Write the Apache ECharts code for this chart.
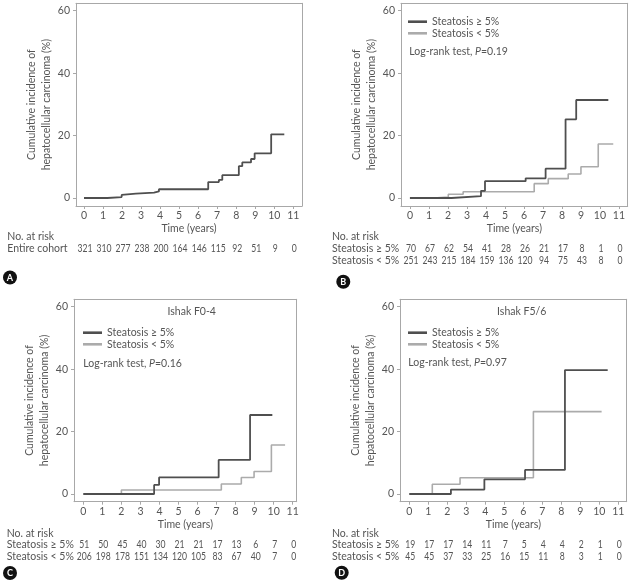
<!DOCTYPE html>
<html><head><meta charset="utf-8">
<script src="https://cdn.jsdelivr.net/npm/echarts@6/dist/echarts.min.js"></script>
<style>html,body{margin:0;padding:0;background:#fff}#c{width:631px;height:584px}</style>
</head><body><div id="c"></div>
<script>
const xTicks = [0,1,2,3,4,5,6,7,8,9,10,11];
const yTicks = [0,20,40,60];
const nameHi = 'Steatosis \u2265 5%';
const nameLo = 'Steatosis < 5%';

// Panel A: entire cohort
const timesA = [0, 1.23, 1.98, 2.06, 2.73, 3.68, 3.94, 6.53, 7.09, 7.27, 8.14, 8.32, 8.78, 8.97, 9.84, 10.53];
const incA   = [0, 0.3, 1.0, 1.4, 1.7, 2.1, 2.8, 5.1, 5.8, 7.3, 10.2, 11.4, 12.5, 14.3, 20.4, 20.4];
// Panel B
const timesBHi = [0, 2.19, 3.74, 3.95, 6.09, 7.14, 8.19, 8.75, 10.44];
const incBHi   = [0, 0.6, 2.3, 5.4, 6.3, 9.4, 25.2, 31.4, 31.4];
const timesBLo = [0, 1.23, 2.02, 2.8, 6.54, 7.28, 8.33, 9.0, 9.91, 10.7];
const incBLo   = [0, 0.3, 1.2, 2.0, 4.6, 6.2, 7.7, 10.0, 17.3, 17.3];
// Panel C: Ishak F0-4
const timesCHi = [0, 3.72, 3.98, 7.11, 8.76, 9.93];
const incCHi   = [0, 2.9, 5.3, 10.9, 25.3, 25.3];
const timesCLo = [0, 2.0, 7.25, 8.3, 8.97, 9.88, 10.6];
const incCLo   = [0, 1.3, 3.2, 5.3, 7.2, 15.7, 15.7];
// Panel D: Ishak F5/6
const timesDHi = [0, 2.19, 3.95, 6.09, 8.19, 10.44];
const incDHi   = [0, 1.4, 4.7, 7.7, 39.7, 39.7];
const timesDLo = [0, 1.21, 2.67, 6.53, 10.12];
const incDLo   = [0, 3.1, 5.2, 26.4, 26.4];

// Numbers at risk
const riskA   = [321,310,277,238,200,164,146,115,92,51,9,0];
const riskBHi = [70,67,62,54,41,28,26,21,17,8,1,0];
const riskBLo = [251,243,215,184,159,136,120,94,75,43,8,0];
const riskCHi = [51,50,45,40,30,21,21,17,13,6,7,0];
const riskCLo = [206,198,178,151,134,120,105,83,67,40,7,0];
const riskDHi = [19,17,17,14,11,7,5,4,4,2,1,0];
const riskDLo = [45,45,37,33,25,16,15,11,8,3,1,0];

const FONT = "Lato, sans-serif";
const TXT = '#555';
const FS = 10.5;
const DARK = '#4f4f4f', LIGHT = '#ababab', BOX = '#a8a8a8';

const panels = [
  {grid:{left:76, top:3.3, width:226, height:202.7}, x:[-0.42,11.46], y:[-2.56,62.37],
   rows:[riskA]},
  {grid:{left:401, top:3.3, width:226.7, height:202.7}, x:[-0.47,11.46], y:[-2.56,62.37],
   rows:[riskBHi, riskBLo]},
  {grid:{left:74, top:299.3, width:222.7, height:202.4}, x:[-0.49,11.21], y:[-2.47,62.37],
   rows:[riskCHi, riskCLo]},
  {grid:{left:400, top:299.3, width:226.7, height:202.4}, x:[-0.49,11.44], y:[-2.47,62.37],
   rows:[riskDHi, riskDLo]}
];

const grids = [], xAxes = [], yAxes = [];
panels.forEach((p, gi) => {
  grids.push(Object.assign({show:false}, p.grid));
  p.mainX = xAxes.length;
  xAxes.push({
    type:'value', gridIndex:gi, position:'bottom', min:p.x[0], max:p.x[1],
    name:'Time (years)', nameLocation:'middle', nameGap:17,
    nameTextStyle:{fontFamily:FONT, fontSize:FS, color:TXT, lineHeight:12},
    axisLine:{show:true, onZero:false, lineStyle:{color:BOX, width:1}},
    axisTick:{show:true, customValues:xTicks, length:3, lineStyle:{color:BOX}},
    axisLabel:{customValues:xTicks, margin:4, fontFamily:FONT, fontSize:FS, color:TXT, lineHeight:12},
    splitLine:{show:false}
  });
  xAxes.push({
    type:'value', gridIndex:gi, position:'top', min:p.x[0], max:p.x[1],
    axisLine:{show:true, onZero:false, lineStyle:{color:BOX, width:1}},
    axisTick:{show:false}, axisLabel:{show:false}, splitLine:{show:false}
  });
  p.mainY = yAxes.length;
  yAxes.push({
    type:'value', gridIndex:gi, position:'left', min:p.y[0], max:p.y[1],
    name:'Cumulative incidence of\nhepatocellular carcinoma (%)', nameLocation:'middle', nameGap:12,
    nameTextStyle:{fontFamily:FONT, fontSize:FS, color:TXT, lineHeight:15, align:'center'},
    axisLine:{show:true, onZero:false, lineStyle:{color:BOX, width:1}},
    axisTick:{show:true, customValues:yTicks, length:3, lineStyle:{color:BOX}},
    axisLabel:{customValues:yTicks, margin:6, fontFamily:FONT, fontSize:FS, color:TXT},
    splitLine:{show:false}
  });
  yAxes.push({
    type:'value', gridIndex:gi, position:'right', min:p.y[0], max:p.y[1],
    axisLine:{show:true, onZero:false, lineStyle:{color:BOX, width:1}},
    axisTick:{show:false}, axisLabel:{show:false}, splitLine:{show:false}
  });
});

function zip(t, v){ return t.map((x,i)=>[x, v[i]]); }
function km(name, t, v, gi, color, w){
  return {type:'line', name, step:'end', data:zip(t,v), xAxisIndex:panels[gi].mainX, yAxisIndex:panels[gi].mainY,
    symbol:'none', showSymbol:false, lineStyle:{color, width:w}, itemStyle:{color}, silent:true};
}
// numbers-at-risk rows, placed at the x-axis tick positions below each panel
function riskRow(gi, row, ri){
  return {type:'custom', name:'risk'+gi+'_'+ri, xAxisIndex:panels[gi].mainX, yAxisIndex:panels[gi].mainY,
    clip:false, silent:true, data:zip(xTicks, row),
    renderItem:(params, api) => {
      const cs = params.coordSys;
      const px = api.coord([api.value(0), 0])[0];
      return {type:'text', x:px + 1, y:cs.y + cs.height + 43 + ri*12, scaleX:0.82,
        style:{text:String(api.value(1)), fill:TXT, font:FS+'px '+FONT, textAlign:'center', textVerticalAlign:'middle'}};
    }};
}
const series = [
  km('Entire cohort', timesA, incA, 0, DARK, 1.8),
  km(nameLo, timesBLo, incBLo, 1, LIGHT, 1.6),
  km(nameHi, timesBHi, incBHi, 1, DARK, 1.8),
  km(nameLo, timesCLo, incCLo, 2, LIGHT, 1.6),
  km(nameHi, timesCHi, incCHi, 2, DARK, 1.8),
  km(nameLo, timesDLo, incDLo, 3, LIGHT, 1.6),
  km(nameHi, timesDHi, incDHi, 3, DARK, 1.8)
];
panels.forEach((p, gi) => p.rows.forEach((r, ri) => series.push(riskRow(gi, r, ri))));

function legendAt(left, top){
  return {orient:'vertical', left, top, padding:0, itemWidth:19, itemHeight:2.6, itemGap:0, selectedMode:false,
    icon:'rect',
    data:[{name:nameHi, itemStyle:{color:DARK}}, {name:nameLo, itemStyle:{color:LIGHT}}],
    textStyle:{fontFamily:FONT, fontSize:FS, color:TXT, lineHeight:11.6}};
}

function txt(x, y, text, extra){
  return {type:'text', x, y, silent:true, style:Object.assign({text, fill:TXT, font:FS+'px '+FONT,
    textAlign:'left', textVerticalAlign:'middle'}, extra||{})};
}
function logrank(x, y, p){
  return {type:'text', x, y, silent:true, style:{text:'Log-rank test, {i|P}=' + p, fill:TXT,
    font:FS+'px '+FONT, textAlign:'left', textVerticalAlign:'middle',
    rich:{i:{fontStyle:'italic', fontFamily:FONT, fontSize:FS, fill:TXT}}}};
}
function badge(cx, cy, letter){
  return [
    {type:'circle', shape:{cx, cy, r:7}, style:{fill:'#111'}, silent:true},
    {type:'text', x:cx, y:cy+0.5, silent:true, style:{text:letter, fill:'#fff', font:'bold 9px Lato',
      textAlign:'center', textVerticalAlign:'middle'}}
  ];
}

const graphics = [
  txt(7.3, 237, 'No. at risk'),
  txt(7.3, 249, 'Entire cohort'),
  txt(332, 237, 'No. at risk'),
  txt(332, 249, nameHi),
  txt(332, 261, nameLo),
  txt(6.7, 533.3, 'No. at risk'),
  txt(6.7, 545, nameHi),
  txt(6.7, 556.7, nameLo),
  txt(332, 533.3, 'No. at risk'),
  txt(332, 545, nameHi),
  txt(332, 556.7, nameLo),
  txt(191.7, 311.7, 'Ishak F0-4', {textAlign:'center'}),
  txt(521.7, 311.7, 'Ishak F5/6', {textAlign:'center'}),
  logrank(409.3, 51.7, '0.19'),
  logrank(83.3, 363.3, '0.16'),
  logrank(408.3, 362.7, '0.97'),
  ...badge(10, 277.5, 'A'),
  ...badge(343.3, 281.7, 'B'),
  ...badge(10, 573, 'C'),
  ...badge(341.7, 572.7, 'D')
];

const chart = echarts.init(document.getElementById('c'), null, {renderer:'canvas'});
chart.setOption({
  animation:false,
  backgroundColor:'#fff',
  grid:grids, xAxis:xAxes, yAxis:yAxes, series,
  legend:[legendAt(408, 15.9), legendAt(83, 326.9), legendAt(408, 326.9)],
  graphic:graphics
});
</script></body></html>
